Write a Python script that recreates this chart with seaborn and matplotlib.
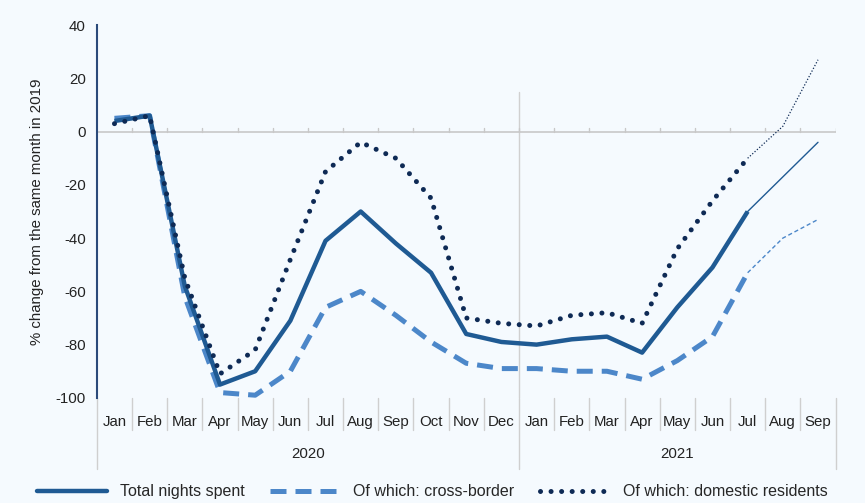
import matplotlib
matplotlib.use("Agg")
import matplotlib.pyplot as plt
import matplotlib.transforms as mtransforms
from matplotlib.lines import Line2D
import numpy as np
import pandas as pd
import seaborn as sns

months = ["Jan", "Feb", "Mar", "Apr", "May", "Jun", "Jul", "Aug", "Sep", "Oct", "Nov", "Dec",
          "Jan", "Feb", "Mar", "Apr", "May", "Jun", "Jul", "Aug", "Sep"]
years = ["2020", "2021"]
year_month_counts = [12, 9]

total = [4, 6, -58, -95, -90, -71, -41, -30, -42, -53, -76, -79,
         -80, -78, -77, -83, -66, -51, -30, -17, -4]
cross = [5, 6, -62, -98, -99, -90, -66, -60, -69, -79, -87, -89,
         -89, -90, -90, -93, -86, -77, -53, -40, -33]
domestic = [3, 6, -55, -91, -82, -48, -15, -4, -10, -25, -70, -72,
            -73, -69, -68, -72, -44, -26, -10, 2, 27]

labels = ["Total nights spent", "Of which: cross-border", "Of which: domestic residents"]
last_actual = 18  # Jul 2021; later months are thin projections

sns.set_theme(style="white")
plt.rcParams["font.family"] = ["Liberation Sans", "DejaVu Sans"]
plt.rcParams["axes.unicode_minus"] = False

bg = "#F5FAFE"
c_total = "#1F5A93"
c_cross = "#4C87C9"
c_dom = "#0E2A55"

fig = plt.figure(figsize=(8.65, 5.03), dpi=100, facecolor=bg)
ax = fig.add_axes([0.112, 0.209, 0.854, 0.741])
ax.set_facecolor(bg)

x = np.arange(len(months))
df = pd.DataFrame({"x": x, "total": total, "cross": cross, "domestic": domestic})
act = df[df.x <= last_actual]
proj = df[df.x >= last_actual]

# actual series
sns.lineplot(data=act, x="x", y="total", ax=ax, color=c_total, lw=3.2,
             solid_capstyle="butt", zorder=4)
sns.lineplot(data=act, x="x", y="cross", ax=ax, color=c_cross, lw=3.6, zorder=3)
ax.lines[-1].set_dashes([3.2, 1.8])
sns.lineplot(data=act, x="x", y="domestic", ax=ax, color=c_dom, lw=3.6, zorder=5)
ax.lines[-1].set_dashes([0.01, 2.1])
ax.lines[-1].set_dash_capstyle("round")

# projections (thin)
sns.lineplot(data=proj, x="x", y="total", ax=ax, color=c_total, lw=1.0, zorder=4)
sns.lineplot(data=proj, x="x", y="cross", ax=ax, color=c_cross, lw=1.0, zorder=3)
ax.lines[-1].set_dashes([3, 2])
sns.lineplot(data=proj, x="x", y="domestic", ax=ax, color=c_dom, lw=0.9, zorder=5)
ax.lines[-1].set_dashes([1, 1.5])

ax.set_xlim(-0.5, len(months) - 0.5)
ax.set_ylim(-100, 40)
ax.set_yticks(np.arange(-100, 41, 20))
ax.set_xticks(x)
ax.set_xticklabels(months)
ax.tick_params(axis="x", length=0, pad=12, labelsize=10.8, colors="#222222")
ax.tick_params(axis="y", length=0, pad=8, labelsize=10.8, colors="#222222")
ax.set_xlabel("")
ax.set_ylabel("% change from the same month in 2019", fontsize=10.8, color="#222222", labelpad=8)

for s in ["top", "right", "bottom"]:
    ax.spines[s].set_visible(False)
ax.spines["left"].set_color("#2B4A7A")
ax.spines["left"].set_linewidth(1.5)

# zero line with small ticks
ax.axhline(0, color="#C8C8C8", lw=1.2, zorder=1)
trans = mtransforms.blended_transform_factory(ax.transData, ax.transAxes)
for b in np.arange(0.5, len(months) - 0.5 + 1e-9, 1.0):
    ax.plot([b, b], [0, 1.5], color="#C8C8C8", lw=1.0, zorder=1)

# category separators below axis
boundary = year_month_counts[0] - 0.5
for b in np.arange(-0.5, len(months) - 0.5 + 1e-9, 1.0):
    if abs(b - boundary) < 1e-6 or abs(b + 0.5) < 1e-6 or abs(b - (len(months) - 0.5)) < 1e-6:
        ax.plot([b, b], [0, -0.19], transform=trans, color="#CFCFCF", lw=1.0, clip_on=False)
    else:
        ax.plot([b, b], [0, -0.085], transform=trans, color="#CFCFCF", lw=1.0, clip_on=False)
# year boundary line through the plot
ax.plot([boundary, boundary], [0, 0.82], transform=trans, color="#D0D0D0", lw=1.0, zorder=0.5)

# year labels
start = 0
for yr, n in zip(years, year_month_counts):
    ax.text(start + (n - 1) / 2, -0.150, yr, transform=trans, ha="center", va="center",
            fontsize=10.8, color="#222222")
    start += n

handles = [Line2D([0], [0], color=c_total, lw=3.2),
           Line2D([0], [0], color=c_cross, lw=3.6, dashes=[3.2, 1.8]),
           Line2D([0], [0], color=c_dom, lw=3.6, dashes=[0.01, 2.1], dash_capstyle="round")]
fig.legend(handles, labels, loc="center", bbox_to_anchor=(0.5, 0.022), ncol=3, frameon=False,
           fontsize=11.5, handlelength=4.4, columnspacing=1.6, handletextpad=0.8)

fig.savefig("out.png", dpi=100, facecolor=bg)
